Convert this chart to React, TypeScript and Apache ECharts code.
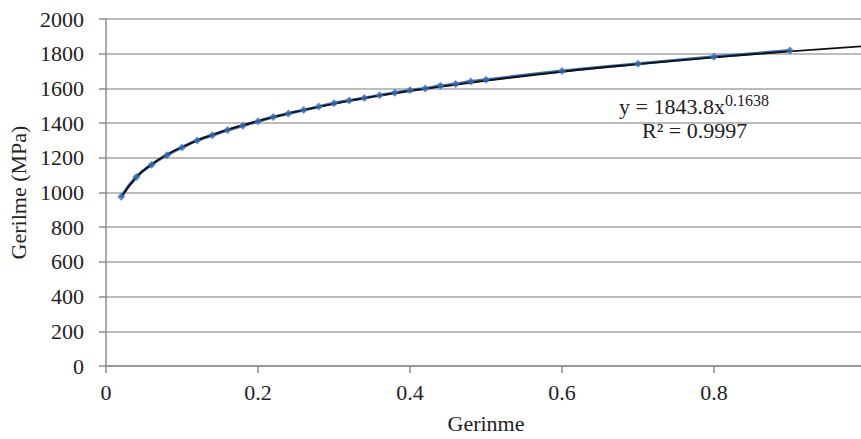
import React, { useEffect, useRef } from "react";
import * as echarts from "echarts";

const strain = [0.02, 0.04, 0.06, 0.08, 0.1, 0.12, 0.14, 0.16, 0.18, 0.2, 0.22, 0.24, 0.26, 0.28, 0.3, 0.32, 0.34, 0.36, 0.38, 0.4, 0.42, 0.44, 0.46, 0.48, 0.5, 0.6, 0.7, 0.8, 0.9];
const stress = [975, 1090, 1160, 1215, 1260, 1300, 1330, 1360, 1385, 1410, 1435, 1455, 1475, 1495, 1515, 1530, 1545, 1560, 1575, 1590, 1600, 1615, 1625, 1640, 1650, 1700, 1742, 1782, 1818];
const trendX = [0.02, 0.04, 0.06, 0.08, 0.1, 0.14, 0.2, 0.3, 0.4, 0.5, 0.6, 0.7, 0.8, 0.9, 1.0];
const trendY = [972, 1088, 1162, 1218, 1262, 1333, 1412, 1511, 1585, 1644, 1696, 1740, 1779, 1813, 1844];
const yTicks = [0, 200, 400, 600, 800, 1000, 1200, 1400, 1600, 1800, 2000];
const xTicks = [0, 0.2, 0.4, 0.6, 0.8, 1];

const FONT = "Liberation Serif";
const FS = 22;

export default function App() {
  const ref = useRef<HTMLDivElement>(null);
  useEffect(() => {
    if (!ref.current) return;
    const chart = echarts.init(ref.current, null, { renderer: "svg" });
    const pts = strain.map((x, i) => [x, stress[i]]);
    const trend = trendX.map((x, i) => [x, trendY[i]]);
    chart.setOption({
      animation: false,
      backgroundColor: "#ffffff",
      grid: { left: 106, top: 19, width: 760, height: 347, containLabel: false, outerBoundsMode: "none" },
      xAxis: {
        type: "value",
        min: xTicks[0],
        max: xTicks[xTicks.length - 1],
        interval: 0.2,
        name: "Gerinme",
        nameLocation: "middle",
        nameGap: 46,
        nameTextStyle: { fontFamily: FONT, fontSize: FS, color: "#222" },
        axisLine: { show: true, lineStyle: { color: "#8c8c8c", width: 1.5 } },
        axisTick: { show: true, length: 7, lineStyle: { color: "#8c8c8c", width: 1.5 } },
        axisLabel: {
          fontFamily: FONT,
          fontSize: FS,
          color: "#222",
          margin: 15,
          formatter: (v: number) => (v === 0 ? "0" : v >= 1 ? "" : String(Math.round(v * 10) / 10)),
        },
        splitLine: { show: false },
      },
      yAxis: {
        type: "value",
        min: yTicks[0],
        max: yTicks[yTicks.length - 1],
        interval: 200,
        name: "Gerilme (MPa)",
        nameLocation: "middle",
        nameGap: 77,
        nameRotate: 90,
        nameTextStyle: { fontFamily: FONT, fontSize: FS, color: "#222" },
        axisLine: { show: true, lineStyle: { color: "#8c8c8c", width: 1.5 } },
        axisTick: { show: true, length: 7, lineStyle: { color: "#8c8c8c", width: 1.5 } },
        axisLabel: { fontFamily: FONT, fontSize: FS, color: "#222", margin: 22, formatter: (v: number) => String(v) },
        splitLine: { show: true, lineStyle: { color: "#a6a6a6", width: 1.5 } },
      },
      series: [
        {
          type: "line",
          data: pts,
          showSymbol: false,
          smooth: true,
          lineStyle: { color: "#3b6cb5", width: 3 },
          z: 2,
        },
        {
          type: "line",
          data: trend,
          showSymbol: false,
          smooth: true,
          lineStyle: { color: "#111", width: 1.8 },
          z: 3,
        },
        {
          type: "scatter",
          data: pts,
          symbol: "diamond",
          symbolSize: 8,
          itemStyle: { color: "#3a6db8" },
          z: 4,
        },
      ],
      graphic: [
        {
          type: "text",
          left: 619,
          top: 92,
          style: {
            text: "{a|y = 1843.8x}{b|0.1638}",
            rich: {
              a: { fontFamily: FONT, fontSize: 22, fill: "#222", verticalAlign: "bottom" },
              b: { fontFamily: FONT, fontSize: 16, fill: "#222", verticalAlign: "top", padding: [0, 0, 9, 0] },
            },
          },
        },
        {
          type: "text",
          left: 642,
          top: 119,
          style: { text: "R² = 0.9997", fontFamily: FONT, fontSize: 22, fill: "#222" },
        },
      ],
    });
    return () => chart.dispose();
  }, []);
  return <div ref={ref} style={{ position: "fixed", left: 0, top: 0, width: 861, height: 439 }} />;
}
